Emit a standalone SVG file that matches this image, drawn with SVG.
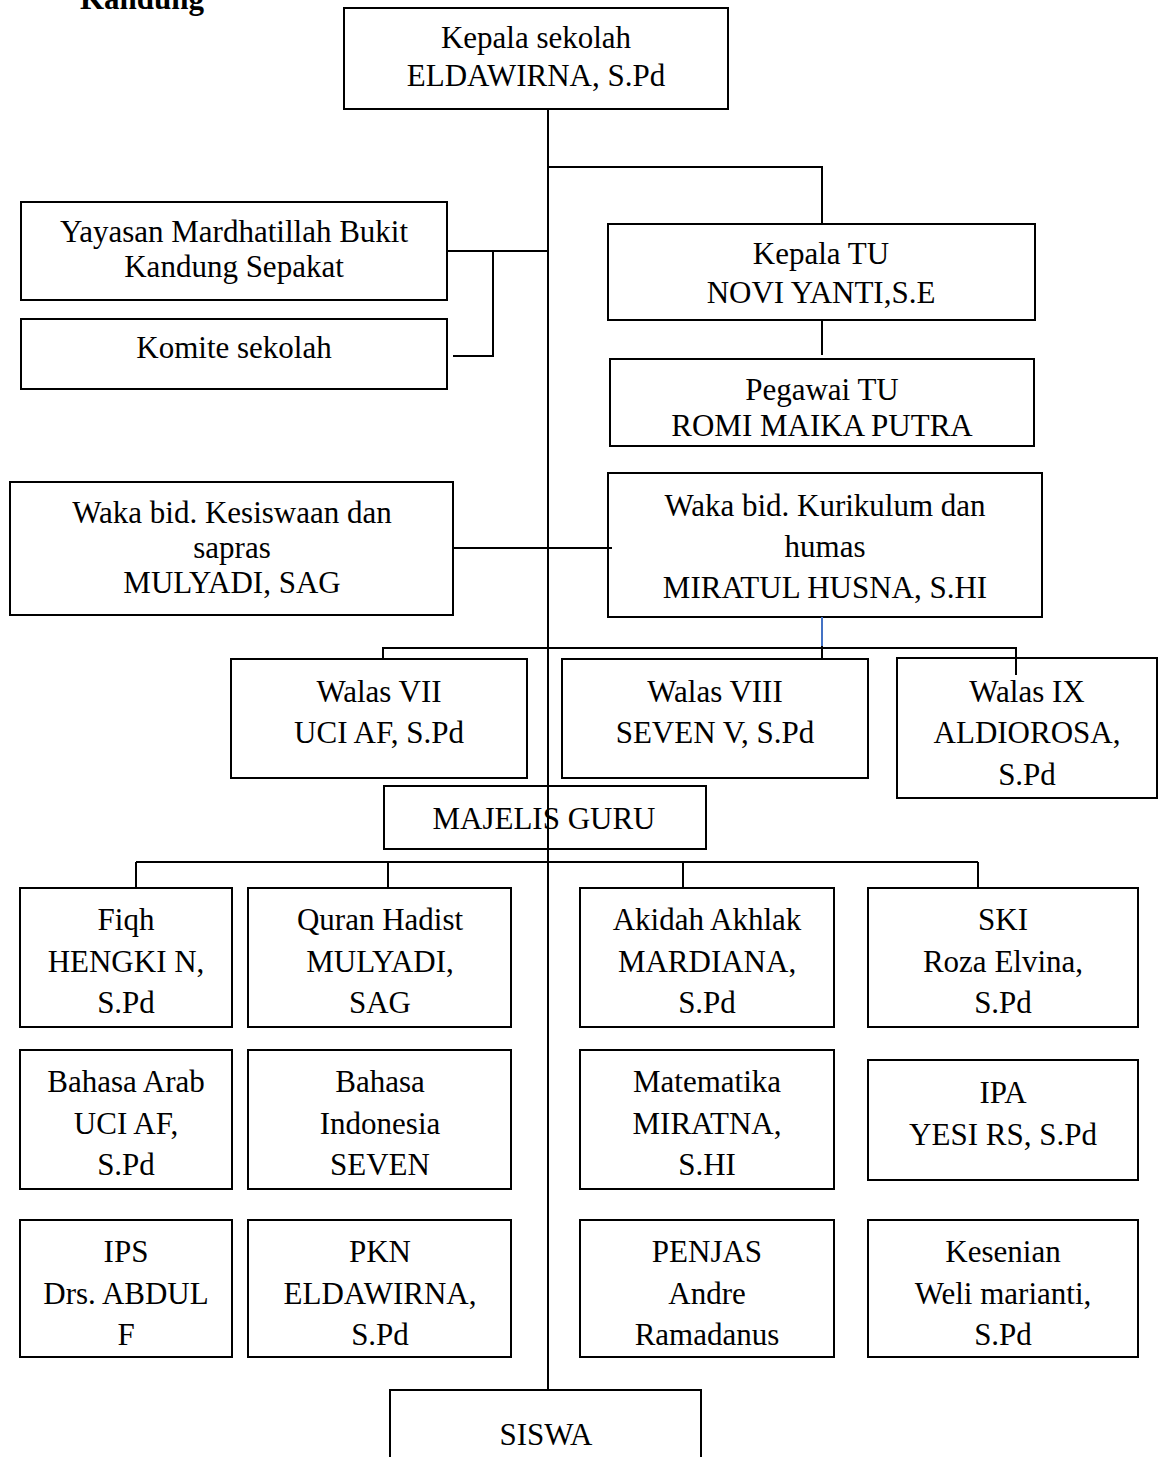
<svg xmlns="http://www.w3.org/2000/svg" width="1162" height="1457" viewBox="0 0 1162 1457">
<style>
.box{fill:#fff;stroke:#000;stroke-width:2}
text{font-family:"Liberation Serif","Times New Roman",serif;font-size:31px;fill:#000;text-anchor:middle}
.title{font-weight:bold;text-anchor:start}
.ln{stroke:#000;stroke-width:2;fill:none}
.blue{stroke:#4472C4;stroke-width:2;fill:none}
</style>
<rect width="1162" height="1457" fill="#fff"/>
<text class="title" x="80" y="9">Kandung</text>
<g id="nodes">
<g id="kepala-sekolah"><rect class="box" x="344" y="8" width="384" height="101"/><text x="536" y="48">Kepala sekolah</text><text x="536" y="86">ELDAWIRNA, S.Pd</text></g>
<g id="yayasan"><rect class="box" x="21" y="202" width="426" height="98"/><text x="234" y="242">Yayasan Mardhatillah Bukit</text><text x="234" y="277">Kandung Sepakat</text></g>
<g id="komite"><rect class="box" x="21" y="319" width="426" height="70"/><text x="234" y="358">Komite sekolah</text></g>
<g id="kepala-tu"><rect class="box" x="608" y="224" width="427" height="96"/><text x="821" y="264">Kepala TU</text><text x="821" y="303">NOVI YANTI,S.E</text></g>
<g id="pegawai-tu"><rect class="box" x="610" y="359" width="424" height="87"/><text x="822" y="400">Pegawai TU</text><text x="822" y="436">ROMI MAIKA PUTRA</text></g>
<g id="waka-kesiswaan"><rect class="box" x="10" y="482" width="443" height="133"/><text x="232" y="523">Waka bid. Kesiswaan dan</text><text x="232" y="558">sapras</text><text x="232" y="593">MULYADI, SAG</text></g>
<g id="waka-kurikulum"><rect class="box" x="608" y="473" width="434" height="144"/><text x="825" y="516">Waka bid. Kurikulum dan</text><text x="825" y="557">humas</text><text x="825" y="598">MIRATUL HUSNA, S.HI</text></g>
<g id="walas-vii"><rect class="box" x="231" y="659" width="296" height="119"/><text x="379" y="702">Walas VII</text><text x="379" y="743">UCI AF, S.Pd</text></g>
<g id="walas-viii"><rect class="box" x="562" y="659" width="306" height="119"/><text x="715" y="702">Walas VIII</text><text x="715" y="743">SEVEN V, S.Pd</text></g>
<g id="walas-ix"><rect class="box" x="897" y="658" width="260" height="140"/><text x="1027" y="702">Walas IX</text><text x="1027" y="743">ALDIOROSA,</text><text x="1027" y="785">S.Pd</text></g>
<g id="majelis-guru"><rect class="box" x="384" y="786" width="322" height="63"/><text x="544" y="829">MAJELIS GURU</text></g>
<g id="fiqh"><rect class="box" x="20" y="888" width="212" height="139"/><text x="126" y="930">Fiqh</text><text x="126" y="972">HENGKI N,</text><text x="126" y="1013">S.Pd</text></g>
<g id="quran-hadist"><rect class="box" x="248" y="888" width="263" height="139"/><text x="380" y="930">Quran Hadist</text><text x="380" y="972">MULYADI,</text><text x="380" y="1013">SAG</text></g>
<g id="akidah-akhlak"><rect class="box" x="580" y="888" width="254" height="139"/><text x="707" y="930">Akidah Akhlak</text><text x="707" y="972">MARDIANA,</text><text x="707" y="1013">S.Pd</text></g>
<g id="ski"><rect class="box" x="868" y="888" width="270" height="139"/><text x="1003" y="930">SKI</text><text x="1003" y="972">Roza Elvina,</text><text x="1003" y="1013">S.Pd</text></g>
<g id="bahasa-arab"><rect class="box" x="20" y="1050" width="212" height="139"/><text x="126" y="1092">Bahasa Arab</text><text x="126" y="1134">UCI AF,</text><text x="126" y="1175">S.Pd</text></g>
<g id="bahasa-indonesia"><rect class="box" x="248" y="1050" width="263" height="139"/><text x="380" y="1092">Bahasa</text><text x="380" y="1134">Indonesia</text><text x="380" y="1175">SEVEN</text></g>
<g id="matematika"><rect class="box" x="580" y="1050" width="254" height="139"/><text x="707" y="1092">Matematika</text><text x="707" y="1134">MIRATNA,</text><text x="707" y="1175">S.HI</text></g>
<g id="ipa"><rect class="box" x="868" y="1060" width="270" height="120"/><text x="1003" y="1103">IPA</text><text x="1003" y="1145">YESI RS, S.Pd</text></g>
<g id="ips"><rect class="box" x="20" y="1220" width="212" height="137"/><text x="126" y="1262">IPS</text><text x="126" y="1304">Drs. ABDUL</text><text x="126" y="1345">F</text></g>
<g id="pkn"><rect class="box" x="248" y="1220" width="263" height="137"/><text x="380" y="1262">PKN</text><text x="380" y="1304">ELDAWIRNA,</text><text x="380" y="1345">S.Pd</text></g>
<g id="penjas"><rect class="box" x="580" y="1220" width="254" height="137"/><text x="707" y="1262">PENJAS</text><text x="707" y="1304">Andre</text><text x="707" y="1345">Ramadanus</text></g>
<g id="kesenian"><rect class="box" x="868" y="1220" width="270" height="137"/><text x="1003" y="1262">Kesenian</text><text x="1003" y="1304">Weli marianti,</text><text x="1003" y="1345">S.Pd</text></g>
<g id="siswa"><rect class="box" x="390" y="1390" width="311" height="80"/><text x="546" y="1445">SISWA</text></g>
</g>
<g id="connectors">
<line class="ln" x1="548" y1="109" x2="548" y2="1390"/>
<polyline class="ln" points="548,167 822,167 822,224"/>
<line class="ln" x1="447" y1="251" x2="548" y2="251"/>
<polyline class="ln" points="493,251 493,356 453,356"/>
<line class="ln" x1="822" y1="320" x2="822" y2="355"/>
<line class="ln" x1="453" y1="548" x2="612" y2="548"/>
<polyline class="ln" points="383,659 383,648 1016,648 1016,675"/>
<line class="blue" x1="822" y1="617" x2="822" y2="658"/>
<line class="ln" x1="822" y1="646" x2="822" y2="658"/>
<line class="ln" x1="136" y1="862" x2="978" y2="862"/>
<line class="ln" x1="136" y1="862" x2="136" y2="888"/>
<line class="ln" x1="388" y1="862" x2="388" y2="888"/>
<line class="ln" x1="683" y1="862" x2="683" y2="888"/>
<line class="ln" x1="978" y1="862" x2="978" y2="888"/>
</g>
</svg>
